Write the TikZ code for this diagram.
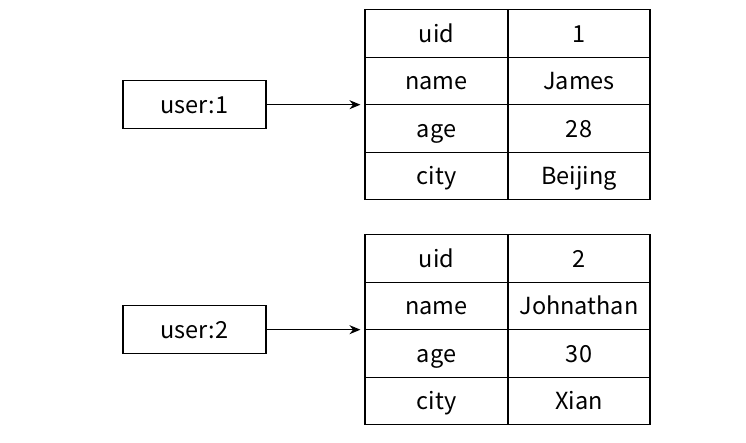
\documentclass[tikz,border=0pt]{standalone}
\usepackage{fontspec}
\setmainfont{Noto Sans CJK SC}
\usetikzlibrary{arrows.meta}
\begin{document}
\begin{tikzpicture}[x=1pt,y=1pt,
  cell/.style={draw=black, line width=1.1pt, minimum width=143pt, minimum height=47.4pt, inner sep=0pt, text height=22pt, text depth=4pt, font=\fontsize{23.5}{28}\selectfont},
  vcell/.style={cell, minimum width=142pt},
  keybox/.style={cell, minimum height=48pt},
  link/.style={line width=1.1pt, -{Stealth[length=11pt,width=9pt]}, shorten >=4pt}]
\useasboundingbox (0,0) rectangle (746,443);
% table 1
\node[cell]  (t1k1) at (436.5,409.4) {uid};
\node[vcell] (t1v1) at (579,409.4) {1};
\node[cell]  (t1k2) at (436.5,362.0) {name};
\node[vcell] (t1v2) at (579,362.0) {James};
\node[cell]  (t1k3) at (436.5,314.6) {age};
\node[vcell] (t1v3) at (579,314.6) {28};
\node[cell]  (t1k4) at (436.5,267.2) {city};
\node[vcell] (t1v4) at (579,267.2) {Beijing};
% table 2
\node[cell]  (t2k1) at (436.5,184.4) {uid};
\node[vcell] (t2v1) at (579,184.4) {2};
\node[cell]  (t2k2) at (436.5,137.0) {name};
\node[vcell] (t2v2) at (579,137.0) {Johnathan};
\node[cell]  (t2k3) at (436.5,89.6) {age};
\node[vcell] (t2v3) at (579,89.6) {30};
\node[cell]  (t2k4) at (436.5,42.2) {city};
\node[vcell] (t2v4) at (579,42.2) {Xian};
% keys
\node[keybox] (u1) at (194.5,338.3) {user:1};
\node[keybox] (u2) at (194.5,113.3) {user:2};
\draw[link] (u1.east) -- (u1.east -| t1k2.west);
\draw[link] (u2.east) -- (u2.east -| t2k2.west);
\end{tikzpicture}
\end{document}
